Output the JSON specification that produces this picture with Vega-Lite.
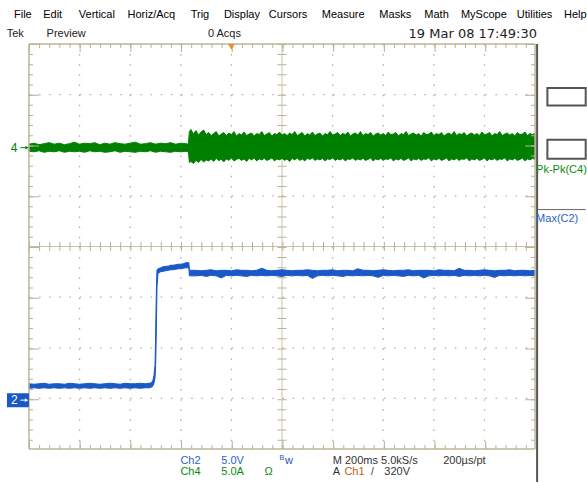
{
  "$schema": "https://vega.github.io/schema/vega-lite/v6.json",
  "width": 587,
  "height": 483,
  "autosize": {"type": "fit", "contains": "padding"},
  "padding": 0,
  "background": "white",
  "config": {"view": {"stroke": null}},
  "data": {"values": [{}]},
  "datasets": {
    "ch4": [
      {"t":0.0,"lo":1.88,"hi":2.02},{"t":0.1,"lo":1.87,"hi":2.04},{"t":0.2,"lo":1.89,"hi":2.01},{"t":0.3,"lo":1.86,"hi":2.03},{"t":0.4,"lo":1.88,"hi":2.05},{"t":0.5,"lo":1.87,"hi":2.02},{"t":0.6,"lo":1.89,"hi":2.04},{"t":0.7,"lo":1.86,"hi":2.01},{"t":0.8,"lo":1.88,"hi":2.03},{"t":0.9,"lo":1.87,"hi":2.06},
      {"t":1.0,"lo":1.88,"hi":2.02},{"t":1.1,"lo":1.86,"hi":2.04},{"t":1.2,"lo":1.89,"hi":2.03},{"t":1.3,"lo":1.87,"hi":2.05},{"t":1.4,"lo":1.88,"hi":2.01},{"t":1.5,"lo":1.86,"hi":2.04},{"t":1.6,"lo":1.87,"hi":2.02},{"t":1.7,"lo":1.89,"hi":2.05},{"t":1.8,"lo":1.86,"hi":2.03},{"t":1.9,"lo":1.88,"hi":2.02},
      {"t":2.0,"lo":1.87,"hi":2.04},{"t":2.1,"lo":1.86,"hi":2.06},{"t":2.2,"lo":1.88,"hi":2.02},{"t":2.3,"lo":1.87,"hi":2.03},{"t":2.4,"lo":1.89,"hi":2.05},{"t":2.5,"lo":1.86,"hi":2.02},{"t":2.6,"lo":1.88,"hi":2.04},{"t":2.7,"lo":1.87,"hi":2.03},{"t":2.8,"lo":1.86,"hi":2.05},{"t":2.9,"lo":1.88,"hi":2.02},
      {"t":3.0,"lo":1.87,"hi":2.04},{"t":3.1,"lo":1.88,"hi":2.03},{"t":3.15,"lo":1.87,"hi":2.02},
      {"t":3.17,"lo":1.66,"hi":2.27},{"t":3.20,"lo":1.68,"hi":2.31},{"t":3.25,"lo":1.64,"hi":2.22},{"t":3.30,"lo":1.70,"hi":2.29},{"t":3.35,"lo":1.66,"hi":2.20},{"t":3.40,"lo":1.72,"hi":2.26},{"t":3.45,"lo":1.67,"hi":2.30},{"t":3.50,"lo":1.71,"hi":2.21},{"t":3.55,"lo":1.69,"hi":2.25},{"t":3.60,"lo":1.73,"hi":2.19},
      {"t":3.65,"lo":1.68,"hi":2.23},{"t":3.70,"lo":1.74,"hi":2.27},{"t":3.75,"lo":1.70,"hi":2.18},{"t":3.80,"lo":1.72,"hi":2.22},{"t":3.85,"lo":1.67,"hi":2.25},{"t":3.90,"lo":1.73,"hi":2.19},{"t":3.95,"lo":1.70,"hi":2.24},{"t":4.00,"lo":1.75,"hi":2.21},{"t":4.05,"lo":1.69,"hi":2.27},{"t":4.10,"lo":1.72,"hi":2.18},
      {"t":4.15,"lo":1.74,"hi":2.23},{"t":4.20,"lo":1.70,"hi":2.20},{"t":4.25,"lo":1.73,"hi":2.26},{"t":4.30,"lo":1.68,"hi":2.19},{"t":4.35,"lo":1.74,"hi":2.22},{"t":4.40,"lo":1.71,"hi":2.24},{"t":4.45,"lo":1.75,"hi":2.18},{"t":4.50,"lo":1.69,"hi":2.23},{"t":4.55,"lo":1.73,"hi":2.21},{"t":4.60,"lo":1.71,"hi":2.27},
      {"t":4.65,"lo":1.74,"hi":2.19},{"t":4.70,"lo":1.70,"hi":2.22},{"t":4.75,"lo":1.72,"hi":2.25},{"t":4.80,"lo":1.75,"hi":2.18},{"t":4.85,"lo":1.69,"hi":2.23},{"t":4.90,"lo":1.73,"hi":2.21},{"t":4.95,"lo":1.71,"hi":2.26},{"t":5.00,"lo":1.74,"hi":2.20},{"t":5.05,"lo":1.70,"hi":2.23},{"t":5.10,"lo":1.73,"hi":2.19},
      {"t":5.15,"lo":1.68,"hi":2.24},{"t":5.20,"lo":1.74,"hi":2.21},{"t":5.25,"lo":1.71,"hi":2.27},{"t":5.30,"lo":1.75,"hi":2.19},{"t":5.35,"lo":1.70,"hi":2.22},{"t":5.40,"lo":1.73,"hi":2.25},{"t":5.45,"lo":1.69,"hi":2.18},{"t":5.50,"lo":1.74,"hi":2.23},{"t":5.55,"lo":1.72,"hi":2.20},{"t":5.60,"lo":1.75,"hi":2.26},
      {"t":5.65,"lo":1.70,"hi":2.19},{"t":5.70,"lo":1.73,"hi":2.22},{"t":5.75,"lo":1.71,"hi":2.24},{"t":5.80,"lo":1.74,"hi":2.18},{"t":5.85,"lo":1.69,"hi":2.23},{"t":5.90,"lo":1.73,"hi":2.21},{"t":5.95,"lo":1.72,"hi":2.27},{"t":6.00,"lo":1.75,"hi":2.20},{"t":6.05,"lo":1.70,"hi":2.22},{"t":6.10,"lo":1.73,"hi":2.25},
      {"t":6.15,"lo":1.71,"hi":2.19},{"t":6.20,"lo":1.74,"hi":2.23},{"t":6.25,"lo":1.69,"hi":2.21},{"t":6.30,"lo":1.73,"hi":2.26},{"t":6.35,"lo":1.72,"hi":2.18},{"t":6.40,"lo":1.75,"hi":2.22},{"t":6.45,"lo":1.70,"hi":2.24},{"t":6.50,"lo":1.73,"hi":2.20},{"t":6.55,"lo":1.71,"hi":2.27},{"t":6.60,"lo":1.74,"hi":2.19},
      {"t":6.65,"lo":1.70,"hi":2.23},{"t":6.70,"lo":1.72,"hi":2.21},{"t":6.75,"lo":1.75,"hi":2.25},{"t":6.80,"lo":1.69,"hi":2.18},{"t":6.85,"lo":1.73,"hi":2.22},{"t":6.90,"lo":1.71,"hi":2.24},{"t":6.95,"lo":1.74,"hi":2.20},{"t":7.00,"lo":1.70,"hi":2.23},{"t":7.05,"lo":1.73,"hi":2.19},{"t":7.10,"lo":1.72,"hi":2.26},
      {"t":7.15,"lo":1.75,"hi":2.21},{"t":7.20,"lo":1.69,"hi":2.22},{"t":7.25,"lo":1.73,"hi":2.25},{"t":7.30,"lo":1.71,"hi":2.18},{"t":7.35,"lo":1.74,"hi":2.23},{"t":7.40,"lo":1.70,"hi":2.21},{"t":7.45,"lo":1.72,"hi":2.27},{"t":7.50,"lo":1.75,"hi":2.19},{"t":7.55,"lo":1.69,"hi":2.22},{"t":7.60,"lo":1.73,"hi":2.24},
      {"t":7.65,"lo":1.71,"hi":2.20},{"t":7.70,"lo":1.74,"hi":2.23},{"t":7.75,"lo":1.70,"hi":2.18},{"t":7.80,"lo":1.73,"hi":2.25},{"t":7.85,"lo":1.72,"hi":2.21},{"t":7.90,"lo":1.75,"hi":2.22},{"t":7.95,"lo":1.69,"hi":2.26},{"t":8.00,"lo":1.73,"hi":2.19},{"t":8.05,"lo":1.71,"hi":2.23},{"t":8.10,"lo":1.74,"hi":2.21},
      {"t":8.15,"lo":1.70,"hi":2.25},{"t":8.20,"lo":1.72,"hi":2.18},{"t":8.25,"lo":1.75,"hi":2.22},{"t":8.30,"lo":1.69,"hi":2.24},{"t":8.35,"lo":1.73,"hi":2.20},{"t":8.40,"lo":1.71,"hi":2.27},{"t":8.45,"lo":1.74,"hi":2.19},{"t":8.50,"lo":1.70,"hi":2.23},{"t":8.55,"lo":1.73,"hi":2.21},{"t":8.60,"lo":1.72,"hi":2.25},
      {"t":8.65,"lo":1.75,"hi":2.18},{"t":8.70,"lo":1.69,"hi":2.22},{"t":8.75,"lo":1.73,"hi":2.24},{"t":8.80,"lo":1.71,"hi":2.20},{"t":8.85,"lo":1.74,"hi":2.23},{"t":8.90,"lo":1.70,"hi":2.19},{"t":8.95,"lo":1.72,"hi":2.26},{"t":9.00,"lo":1.75,"hi":2.21},{"t":9.05,"lo":1.69,"hi":2.22},{"t":9.10,"lo":1.73,"hi":2.25},
      {"t":9.15,"lo":1.71,"hi":2.18},{"t":9.20,"lo":1.74,"hi":2.23},{"t":9.25,"lo":1.70,"hi":2.21},{"t":9.30,"lo":1.73,"hi":2.27},{"t":9.35,"lo":1.72,"hi":2.19},{"t":9.40,"lo":1.75,"hi":2.22},{"t":9.45,"lo":1.69,"hi":2.24},{"t":9.50,"lo":1.73,"hi":2.20},{"t":9.55,"lo":1.71,"hi":2.23},{"t":9.60,"lo":1.74,"hi":2.18},
      {"t":9.65,"lo":1.70,"hi":2.25},{"t":9.70,"lo":1.72,"hi":2.21},{"t":9.75,"lo":1.75,"hi":2.22},{"t":9.80,"lo":1.69,"hi":2.26},{"t":9.85,"lo":1.73,"hi":2.19},{"t":9.90,"lo":1.71,"hi":2.23},{"t":9.95,"lo":1.74,"hi":2.21},{"t":10.00,"lo":1.72,"hi":2.24}
    ],
    "ch2": [
      {"t":0.0,"lo":-2.80,"hi":-2.71},{"t":0.1,"lo":-2.79,"hi":-2.72},{"t":0.2,"lo":-2.80,"hi":-2.71},{"t":0.3,"lo":-2.79,"hi":-2.70},{"t":0.4,"lo":-2.80,"hi":-2.72},{"t":0.5,"lo":-2.79,"hi":-2.71},{"t":0.6,"lo":-2.80,"hi":-2.71},{"t":0.7,"lo":-2.79,"hi":-2.72},{"t":0.8,"lo":-2.80,"hi":-2.70},{"t":0.9,"lo":-2.79,"hi":-2.71},
      {"t":1.0,"lo":-2.80,"hi":-2.72},{"t":1.1,"lo":-2.79,"hi":-2.71},{"t":1.2,"lo":-2.80,"hi":-2.70},{"t":1.3,"lo":-2.79,"hi":-2.71},{"t":1.4,"lo":-2.80,"hi":-2.72},{"t":1.5,"lo":-2.79,"hi":-2.71},{"t":1.6,"lo":-2.80,"hi":-2.70},{"t":1.7,"lo":-2.79,"hi":-2.71},{"t":1.8,"lo":-2.80,"hi":-2.72},{"t":1.9,"lo":-2.79,"hi":-2.70},
      {"t":2.0,"lo":-2.80,"hi":-2.71},{"t":2.1,"lo":-2.79,"hi":-2.71},{"t":2.2,"lo":-2.80,"hi":-2.70},{"t":2.3,"lo":-2.79,"hi":-2.71},{"t":2.38,"lo":-2.79,"hi":-2.70},{"t":2.42,"lo":-2.78,"hi":-2.69},{"t":2.45,"lo":-2.75,"hi":-2.64},{"t":2.47,"lo":-2.70,"hi":-2.55},{"t":2.49,"lo":-2.60,"hi":-2.35},{"t":2.50,"lo":-2.45,"hi":-1.95},
      {"t":2.51,"lo":-2.05,"hi":-1.30},{"t":2.52,"lo":-1.40,"hi":-0.75},{"t":2.53,"lo":-0.80,"hi":-0.46},{"t":2.55,"lo":-0.53,"hi":-0.44},{"t":2.60,"lo":-0.50,"hi":-0.42},{"t":2.65,"lo":-0.49,"hi":-0.40},{"t":2.70,"lo":-0.48,"hi":-0.39},{"t":2.75,"lo":-0.47,"hi":-0.39},{"t":2.80,"lo":-0.46,"hi":-0.37},{"t":2.85,"lo":-0.46,"hi":-0.37},
      {"t":2.90,"lo":-0.45,"hi":-0.36},{"t":2.95,"lo":-0.44,"hi":-0.35},{"t":3.00,"lo":-0.44,"hi":-0.35},{"t":3.05,"lo":-0.43,"hi":-0.34},{"t":3.10,"lo":-0.42,"hi":-0.32},{"t":3.16,"lo":-0.42,"hi":-0.32},{"t":3.17,"lo":-0.58,"hi":-0.47},{"t":3.20,"lo":-0.58,"hi":-0.47},
      {"t":3.3,"lo":-0.58,"hi":-0.47},{"t":3.4,"lo":-0.57,"hi":-0.48},{"t":3.5,"lo":-0.59,"hi":-0.47},{"t":3.6,"lo":-0.57,"hi":-0.46},{"t":3.7,"lo":-0.58,"hi":-0.48},{"t":3.8,"lo":-0.62,"hi":-0.47},{"t":3.9,"lo":-0.57,"hi":-0.47},{"t":4.0,"lo":-0.58,"hi":-0.48},
      {"t":4.1,"lo":-0.57,"hi":-0.46},{"t":4.2,"lo":-0.58,"hi":-0.47},{"t":4.3,"lo":-0.59,"hi":-0.47},{"t":4.4,"lo":-0.57,"hi":-0.48},{"t":4.5,"lo":-0.58,"hi":-0.47},{"t":4.6,"lo":-0.57,"hi":-0.43},{"t":4.7,"lo":-0.58,"hi":-0.47},{"t":4.8,"lo":-0.57,"hi":-0.48},{"t":4.9,"lo":-0.58,"hi":-0.47},{"t":5.0,"lo":-0.59,"hi":-0.46},
      {"t":5.1,"lo":-0.57,"hi":-0.47},{"t":5.2,"lo":-0.58,"hi":-0.48},{"t":5.3,"lo":-0.57,"hi":-0.47},{"t":5.4,"lo":-0.58,"hi":-0.47},{"t":5.5,"lo":-0.57,"hi":-0.46},{"t":5.6,"lo":-0.63,"hi":-0.47},{"t":5.7,"lo":-0.58,"hi":-0.48},{"t":5.8,"lo":-0.57,"hi":-0.47},{"t":5.9,"lo":-0.58,"hi":-0.47},{"t":6.0,"lo":-0.57,"hi":-0.46},
      {"t":6.1,"lo":-0.58,"hi":-0.48},{"t":6.2,"lo":-0.59,"hi":-0.47},{"t":6.3,"lo":-0.57,"hi":-0.47},{"t":6.4,"lo":-0.58,"hi":-0.48},{"t":6.5,"lo":-0.57,"hi":-0.44},{"t":6.6,"lo":-0.58,"hi":-0.47},{"t":6.7,"lo":-0.57,"hi":-0.47},{"t":6.8,"lo":-0.58,"hi":-0.48},{"t":6.9,"lo":-0.61,"hi":-0.47},{"t":7.0,"lo":-0.57,"hi":-0.46},
      {"t":7.1,"lo":-0.58,"hi":-0.47},{"t":7.2,"lo":-0.57,"hi":-0.48},{"t":7.3,"lo":-0.58,"hi":-0.47},{"t":7.4,"lo":-0.59,"hi":-0.47},{"t":7.5,"lo":-0.57,"hi":-0.46},{"t":7.6,"lo":-0.58,"hi":-0.48},{"t":7.7,"lo":-0.57,"hi":-0.47},{"t":7.8,"lo":-0.62,"hi":-0.47},{"t":7.9,"lo":-0.58,"hi":-0.47},{"t":8.0,"lo":-0.57,"hi":-0.48},
      {"t":8.1,"lo":-0.58,"hi":-0.46},{"t":8.2,"lo":-0.57,"hi":-0.47},{"t":8.3,"lo":-0.58,"hi":-0.47},{"t":8.4,"lo":-0.57,"hi":-0.48},{"t":8.5,"lo":-0.59,"hi":-0.43},{"t":8.6,"lo":-0.57,"hi":-0.47},{"t":8.7,"lo":-0.58,"hi":-0.47},{"t":8.8,"lo":-0.57,"hi":-0.48},{"t":8.9,"lo":-0.58,"hi":-0.47},{"t":9.0,"lo":-0.57,"hi":-0.46},
      {"t":9.1,"lo":-0.58,"hi":-0.47},{"t":9.2,"lo":-0.61,"hi":-0.48},{"t":9.3,"lo":-0.57,"hi":-0.47},{"t":9.4,"lo":-0.58,"hi":-0.47},{"t":9.5,"lo":-0.57,"hi":-0.46},{"t":9.6,"lo":-0.58,"hi":-0.48},{"t":9.7,"lo":-0.57,"hi":-0.47},{"t":9.8,"lo":-0.58,"hi":-0.47},{"t":9.9,"lo":-0.57,"hi":-0.48},{"t":10.0,"lo":-0.58,"hi":-0.47}
    ],
    "vgrid": [{"d":1},{"d":2},{"d":3},{"d":4},{"d":6},{"d":7},{"d":8},{"d":9}],
    "hgrid": [{"d":-3},{"d":-2},{"d":-1},{"d":1},{"d":2},{"d":3}]
  },
  "layer": [
    {
      "data": {"name": "vgrid"},
      "mark": {"type": "rule", "color": "#b5b098", "strokeWidth": 1.3, "strokeDash": [1.5, 8.65]},
      "encoding": {
        "x": {"field": "d", "type": "quantitative", "scale": {"domain": [-0.572, 11.006], "nice": false, "zero": false}, "axis": null},
        "y": {"datum": 4, "type": "quantitative", "scale": {"domain": [-4.65, 4.867], "nice": false, "zero": false}, "axis": null},
        "y2": {"datum": -4}
      }
    },
    {
      "data": {"name": "hgrid"},
      "mark": {"type": "rule", "color": "#b5b098", "strokeWidth": 1.3, "strokeDash": [1.5, 8.64]},
      "encoding": {
        "y": {"field": "d", "type": "quantitative"},
        "x": {"datum": 0, "type": "quantitative"},
        "x2": {"datum": 10}
      }
    },
    {
      "mark": {"type": "rule", "color": "#c9c4a6", "strokeWidth": 1},
      "encoding": {"x": {"datum": 5, "type": "quantitative"}, "y": {"datum": 4, "type": "quantitative"}, "y2": {"datum": -4}}
    },
    {
      "mark": {"type": "rule", "color": "#c9c4a6", "strokeWidth": 1},
      "encoding": {"y": {"datum": 0, "type": "quantitative"}, "x": {"datum": 0, "type": "quantitative"}, "x2": {"datum": 10}}
    },
    {
      "mark": {"type": "rule", "color": "#b9b393", "strokeWidth": 9, "strokeDash": [1, 9.15]},
      "encoding": {"x": {"datum": 5, "type": "quantitative"}, "y": {"datum": 4, "type": "quantitative"}, "y2": {"datum": -4}}
    },
    {
      "mark": {"type": "rule", "color": "#b9b393", "strokeWidth": 9, "strokeDash": [1, 9.14]},
      "encoding": {"y": {"datum": 0, "type": "quantitative"}, "x": {"datum": 0, "type": "quantitative"}, "x2": {"datum": 10}}
    },
    {
      "data": {"name": "ch4"},
      "mark": {"type": "area", "color": "#008000", "stroke": "#008000", "strokeWidth": 1},
      "encoding": {"x": {"field": "t", "type": "quantitative"}, "y": {"field": "lo", "type": "quantitative"}, "y2": {"field": "hi"}}
    },
    {
      "data": {"name": "ch2"},
      "mark": {"type": "area", "color": "#1a58c6", "stroke": "#1a58c6", "strokeWidth": 1},
      "encoding": {"x": {"field": "t", "type": "quantitative"}, "y": {"field": "lo", "type": "quantitative"}, "y2": {"field": "hi"}}
    },
    {
      "mark": {"type": "rule", "color": "#bdb797", "strokeWidth": 1.5},
      "encoding": {"x": {"datum": 0, "type": "quantitative"}, "x2": {"datum": 10}, "y": {"datum": 4, "type": "quantitative"}}
    },
    {
      "mark": {"type": "rule", "color": "#bdb797", "strokeWidth": 1.5},
      "encoding": {"x": {"datum": 0, "type": "quantitative"}, "x2": {"datum": 10}, "y": {"datum": -4, "type": "quantitative"}}
    },
    {
      "mark": {"type": "rule", "color": "#bdb797", "strokeWidth": 1.5},
      "encoding": {"x": {"datum": 0, "type": "quantitative"}, "y": {"datum": 4, "type": "quantitative"}, "y2": {"datum": -4}}
    },
    {
      "mark": {"type": "rule", "color": "#bdb797", "strokeWidth": 1.5},
      "encoding": {"x": {"datum": 10, "type": "quantitative"}, "y": {"datum": 4, "type": "quantitative"}, "y2": {"datum": -4}}
    },
    {
      "mark": {"type": "rule", "color": "#b9b393", "strokeWidth": 4, "strokeDash": [1, 9.14]},
      "encoding": {"x": {"datum": 0, "type": "quantitative"}, "x2": {"datum": 10}, "y": {"datum": 3.961, "type": "quantitative"}}
    },
    {
      "mark": {"type": "rule", "color": "#b9b393", "strokeWidth": 8, "strokeDash": [1, 49.7]},
      "encoding": {"x": {"datum": 0, "type": "quantitative"}, "x2": {"datum": 10}, "y": {"datum": 3.921, "type": "quantitative"}}
    },
    {
      "mark": {"type": "rule", "color": "#b9b393", "strokeWidth": 4, "strokeDash": [1, 9.14]},
      "encoding": {"x": {"datum": 0, "type": "quantitative"}, "x2": {"datum": 10}, "y": {"datum": -3.961, "type": "quantitative"}}
    },
    {
      "mark": {"type": "rule", "color": "#b9b393", "strokeWidth": 8, "strokeDash": [1, 49.7]},
      "encoding": {"x": {"datum": 0, "type": "quantitative"}, "x2": {"datum": 10}, "y": {"datum": -3.921, "type": "quantitative"}}
    },
    {
      "mark": {"type": "rule", "color": "#b9b393", "strokeWidth": 4, "strokeDash": [1, 9.15]},
      "encoding": {"x": {"datum": 0.039, "type": "quantitative"}, "y": {"datum": 4, "type": "quantitative"}, "y2": {"datum": -4}}
    },
    {
      "mark": {"type": "rule", "color": "#b9b393", "strokeWidth": 10, "strokeDash": [1, 49.75]},
      "encoding": {"x": {"datum": 0.099, "type": "quantitative"}, "y": {"datum": 4, "type": "quantitative"}, "y2": {"datum": -4}}
    },
    {
      "mark": {"type": "rule", "color": "#b9b393", "strokeWidth": 4, "strokeDash": [1, 9.15]},
      "encoding": {"x": {"datum": 9.961, "type": "quantitative"}, "y": {"datum": 4, "type": "quantitative"}, "y2": {"datum": -4}}
    },
    {
      "mark": {"type": "rule", "color": "#b9b393", "strokeWidth": 10, "strokeDash": [1, 49.75]},
      "encoding": {"x": {"datum": 9.901, "type": "quantitative"}, "y": {"datum": 4, "type": "quantitative"}, "y2": {"datum": -4}}
    },
    {
      "mark": {"type": "rule", "color": "#555555", "strokeWidth": 2},
      "encoding": {"x": {"datum": 10.04, "type": "quantitative"}, "y": {"datum": 4, "type": "quantitative"}, "y2": {"datum": -4.65}}
    },
    {
      "mark": {"type": "rect", "fill": "white", "stroke": "#555555", "strokeWidth": 2},
      "encoding": {"x": {"datum": 10.243, "type": "quantitative"}, "x2": {"datum": 11.0}, "y": {"datum": 3.127, "type": "quantitative"}, "y2": {"datum": 2.784}}
    },
    {
      "mark": {"type": "rect", "fill": "white", "stroke": "#555555", "strokeWidth": 2},
      "encoding": {"x": {"datum": 10.243, "type": "quantitative"}, "x2": {"datum": 11.0}, "y": {"datum": 2.108, "type": "quantitative"}, "y2": {"datum": 1.734}}
    },
    {
      "mark": {"type": "rule", "color": "#666666", "strokeWidth": 1},
      "encoding": {"x": {"datum": 10.04, "type": "quantitative"}, "x2": {"datum": 11.0}, "y": {"datum": 0.729, "type": "quantitative"}}
    },
    {
      "mark": {"type": "text", "align": "left", "baseline": "middle", "font": "Liberation Sans", "fontSize": 11, "color": "#0a8a0a"},
      "encoding": {"x": {"datum": 10.02, "type": "quantitative"}, "y": {"datum": 1.517, "type": "quantitative"}, "text": {"value": "Pk-Pk(C4)"}}
    },
    {
      "mark": {"type": "text", "align": "left", "baseline": "middle", "font": "Liberation Sans", "fontSize": 11, "color": "#2a62c8"},
      "encoding": {"x": {"datum": 10.02, "type": "quantitative"}, "y": {"datum": 0.546, "type": "quantitative"}, "text": {"value": "Max(C2)"}}
    },
    {
      "mark": {"type": "point", "shape": "triangle-down", "size": 45, "filled": true, "color": "#f08a24", "opacity": 1},
      "encoding": {"x": {"datum": 4, "type": "quantitative"}, "y": {"datum": 3.94, "type": "quantitative"}}
    },
    {
      "mark": {"type": "text", "align": "center", "baseline": "middle", "font": "Liberation Sans", "fontSize": 12, "color": "#008000"},
      "encoding": {"x": {"datum": -0.296, "type": "quantitative"}, "y": {"datum": 1.951, "type": "quantitative"}, "text": {"value": "4"}}
    },
    {
      "mark": {"type": "rule", "color": "#008000", "strokeWidth": 1},
      "encoding": {"x": {"datum": -0.17, "type": "quantitative"}, "x2": {"datum": -0.02}, "y": {"datum": 1.951, "type": "quantitative"}}
    },
    {
      "mark": {"type": "point", "shape": "triangle-right", "size": 14, "filled": true, "color": "#008000", "opacity": 1},
      "encoding": {"x": {"datum": -0.04, "type": "quantitative"}, "y": {"datum": 1.951, "type": "quantitative"}}
    },
    {
      "mark": {"type": "rect", "color": "#1a58c6"},
      "encoding": {"x": {"datum": -0.434, "type": "quantitative"}, "x2": {"datum": 0}, "y": {"datum": -2.897, "type": "quantitative"}, "y2": {"datum": -3.172}}
    },
    {
      "mark": {"type": "text", "align": "center", "baseline": "middle", "font": "Liberation Sans", "fontSize": 12, "color": "white"},
      "encoding": {"x": {"datum": -0.29, "type": "quantitative"}, "y": {"datum": -3.034, "type": "quantitative"}, "text": {"value": "2"}}
    },
    {
      "mark": {"type": "rule", "color": "white", "strokeWidth": 1},
      "encoding": {"x": {"datum": -0.17, "type": "quantitative"}, "x2": {"datum": -0.03}, "y": {"datum": -3.034, "type": "quantitative"}}
    },
    {
      "mark": {"type": "point", "shape": "triangle-right", "size": 14, "filled": true, "color": "white", "opacity": 1},
      "encoding": {"x": {"datum": -0.05, "type": "quantitative"}, "y": {"datum": -3.034, "type": "quantitative"}}
    },
    {"mark": {"type": "text", "align": "left", "baseline": "middle", "font": "Liberation Sans", "fontSize": 11, "color": "#000000"}, "encoding": {"x": {"datum": -0.296, "type": "quantitative"}, "y": {"datum": 4.571, "type": "quantitative"}, "text": {"value": "File"}}},
    {"mark": {"type": "text", "align": "left", "baseline": "middle", "font": "Liberation Sans", "fontSize": 11, "color": "#000000"}, "encoding": {"x": {"datum": 0.282, "type": "quantitative"}, "y": {"datum": 4.571, "type": "quantitative"}, "text": {"value": "Edit"}}},
    {"mark": {"type": "text", "align": "left", "baseline": "middle", "font": "Liberation Sans", "fontSize": 11, "color": "#000000"}, "encoding": {"x": {"datum": 0.986, "type": "quantitative"}, "y": {"datum": 4.571, "type": "quantitative"}, "text": {"value": "Vertical"}}},
    {"mark": {"type": "text", "align": "left", "baseline": "middle", "font": "Liberation Sans", "fontSize": 11, "color": "#000000"}, "encoding": {"x": {"datum": 1.947, "type": "quantitative"}, "y": {"datum": 4.571, "type": "quantitative"}, "text": {"value": "Horiz/Acq"}}},
    {"mark": {"type": "text", "align": "left", "baseline": "middle", "font": "Liberation Sans", "fontSize": 11, "color": "#000000"}, "encoding": {"x": {"datum": 3.195, "type": "quantitative"}, "y": {"datum": 4.571, "type": "quantitative"}, "text": {"value": "Trig"}}},
    {"mark": {"type": "text", "align": "left", "baseline": "middle", "font": "Liberation Sans", "fontSize": 11, "color": "#000000"}, "encoding": {"x": {"datum": 3.852, "type": "quantitative"}, "y": {"datum": 4.571, "type": "quantitative"}, "text": {"value": "Display"}}},
    {"mark": {"type": "text", "align": "left", "baseline": "middle", "font": "Liberation Sans", "fontSize": 11, "color": "#000000"}, "encoding": {"x": {"datum": 4.74, "type": "quantitative"}, "y": {"datum": 4.571, "type": "quantitative"}, "text": {"value": "Cursors"}}},
    {"mark": {"type": "text", "align": "left", "baseline": "middle", "font": "Liberation Sans", "fontSize": 11, "color": "#000000"}, "encoding": {"x": {"datum": 5.785, "type": "quantitative"}, "y": {"datum": 4.571, "type": "quantitative"}, "text": {"value": "Measure"}}},
    {"mark": {"type": "text", "align": "left", "baseline": "middle", "font": "Liberation Sans", "fontSize": 11, "color": "#000000"}, "encoding": {"x": {"datum": 6.923, "type": "quantitative"}, "y": {"datum": 4.571, "type": "quantitative"}, "text": {"value": "Masks"}}},
    {"mark": {"type": "text", "align": "left", "baseline": "middle", "font": "Liberation Sans", "fontSize": 11, "color": "#000000"}, "encoding": {"x": {"datum": 7.811, "type": "quantitative"}, "y": {"datum": 4.571, "type": "quantitative"}, "text": {"value": "Math"}}},
    {"mark": {"type": "text", "align": "left", "baseline": "middle", "font": "Liberation Sans", "fontSize": 11, "color": "#000000"}, "encoding": {"x": {"datum": 8.535, "type": "quantitative"}, "y": {"datum": 4.571, "type": "quantitative"}, "text": {"value": "MyScope"}}},
    {"mark": {"type": "text", "align": "left", "baseline": "middle", "font": "Liberation Sans", "fontSize": 11, "color": "#000000"}, "encoding": {"x": {"datum": 9.639, "type": "quantitative"}, "y": {"datum": 4.571, "type": "quantitative"}, "text": {"value": "Utilities"}}},
    {"mark": {"type": "text", "align": "left", "baseline": "middle", "font": "Liberation Sans", "fontSize": 11, "color": "#000000"}, "encoding": {"x": {"datum": 10.572, "type": "quantitative"}, "y": {"datum": 4.571, "type": "quantitative"}, "text": {"value": "Help"}}},
    {"mark": {"type": "text", "align": "left", "baseline": "middle", "font": "Liberation Sans", "fontSize": 11, "color": "#222222"}, "encoding": {"x": {"datum": -0.44, "type": "quantitative"}, "y": {"datum": 4.197, "type": "quantitative"}, "text": {"value": "Tek"}}},
    {"mark": {"type": "text", "align": "left", "baseline": "middle", "font": "Liberation Sans", "fontSize": 11, "color": "#222222"}, "encoding": {"x": {"datum": 0.349, "type": "quantitative"}, "y": {"datum": 4.197, "type": "quantitative"}, "text": {"value": "Preview"}}},
    {"mark": {"type": "text", "align": "left", "baseline": "middle", "font": "Liberation Sans", "fontSize": 11, "color": "#222222"}, "encoding": {"x": {"datum": 3.536, "type": "quantitative"}, "y": {"datum": 4.197, "type": "quantitative"}, "text": {"value": "0 Acqs"}}},
    {"mark": {"type": "text", "align": "left", "baseline": "middle", "font": "DejaVu Sans", "fontSize": 13, "color": "#222222"}, "encoding": {"x": {"datum": 7.5, "type": "quantitative"}, "y": {"datum": 4.197, "type": "quantitative"}, "text": {"value": "19 Mar 08 17:49:30"}}},
    {"mark": {"type": "text", "align": "left", "baseline": "middle", "font": "Liberation Sans", "fontSize": 11, "color": "#2a62c8"}, "encoding": {"x": {"datum": 2.992, "type": "quantitative"}, "y": {"datum": -4.231, "type": "quantitative"}, "text": {"value": "Ch2"}}},
    {"mark": {"type": "text", "align": "left", "baseline": "middle", "font": "Liberation Sans", "fontSize": 11, "color": "#2a62c8"}, "encoding": {"x": {"datum": 3.801, "type": "quantitative"}, "y": {"datum": -4.231, "type": "quantitative"}, "text": {"value": "5.0V"}}},
    {"mark": {"type": "text", "align": "left", "baseline": "middle", "font": "Liberation Sans", "fontSize": 7, "color": "#2a52b0"}, "encoding": {"x": {"datum": 4.951, "type": "quantitative"}, "y": {"datum": -4.17, "type": "quantitative"}, "text": {"value": "B"}}},
    {"mark": {"type": "text", "align": "left", "baseline": "middle", "font": "Liberation Sans", "fontSize": 11, "color": "#2a52b0"}, "encoding": {"x": {"datum": 5.06, "type": "quantitative"}, "y": {"datum": -4.231, "type": "quantitative"}, "text": {"value": "w"}}},
    {"mark": {"type": "text", "align": "left", "baseline": "middle", "font": "Liberation Sans", "fontSize": 11, "color": "#333333"}, "encoding": {"x": {"datum": 6.002, "type": "quantitative"}, "y": {"datum": -4.231, "type": "quantitative"}, "text": {"value": "M 200ms 5.0kS/s"}}},
    {"mark": {"type": "text", "align": "left", "baseline": "middle", "font": "Liberation Sans", "fontSize": 11, "color": "#333333"}, "encoding": {"x": {"datum": 8.185, "type": "quantitative"}, "y": {"datum": -4.231, "type": "quantitative"}, "text": {"value": "200µs/pt"}}},
    {"mark": {"type": "text", "align": "left", "baseline": "middle", "font": "Liberation Sans", "fontSize": 11, "color": "#0a8a0a"}, "encoding": {"x": {"datum": 2.992, "type": "quantitative"}, "y": {"datum": -4.459, "type": "quantitative"}, "text": {"value": "Ch4"}}},
    {"mark": {"type": "text", "align": "left", "baseline": "middle", "font": "Liberation Sans", "fontSize": 11, "color": "#0a8a0a"}, "encoding": {"x": {"datum": 3.801, "type": "quantitative"}, "y": {"datum": -4.459, "type": "quantitative"}, "text": {"value": "5.0A"}}},
    {"mark": {"type": "text", "align": "left", "baseline": "middle", "font": "Liberation Sans", "fontSize": 11, "color": "#0a8a0a"}, "encoding": {"x": {"datum": 4.655, "type": "quantitative"}, "y": {"datum": -4.459, "type": "quantitative"}, "text": {"value": "Ω"}}},
    {"mark": {"type": "text", "align": "left", "baseline": "middle", "font": "Liberation Sans", "fontSize": 11, "color": "#333333"}, "encoding": {"x": {"datum": 6.002, "type": "quantitative"}, "y": {"datum": -4.459, "type": "quantitative"}, "text": {"value": "A"}}},
    {"mark": {"type": "text", "align": "left", "baseline": "middle", "font": "Liberation Sans", "fontSize": 11, "color": "#c0600a"}, "encoding": {"x": {"datum": 6.233, "type": "quantitative"}, "y": {"datum": -4.459, "type": "quantitative"}, "text": {"value": "Ch1"}}},
    {"mark": {"type": "text", "align": "left", "baseline": "middle", "font": "Liberation Sans", "fontSize": 10, "color": "#333333"}, "encoding": {"x": {"datum": 6.759, "type": "quantitative"}, "y": {"datum": -4.459, "type": "quantitative"}, "text": {"value": "/"}}},
    {"mark": {"type": "text", "align": "left", "baseline": "middle", "font": "Liberation Sans", "fontSize": 11, "color": "#333333"}, "encoding": {"x": {"datum": 7.022, "type": "quantitative"}, "y": {"datum": -4.459, "type": "quantitative"}, "text": {"value": "320V"}}}
  ]
}
